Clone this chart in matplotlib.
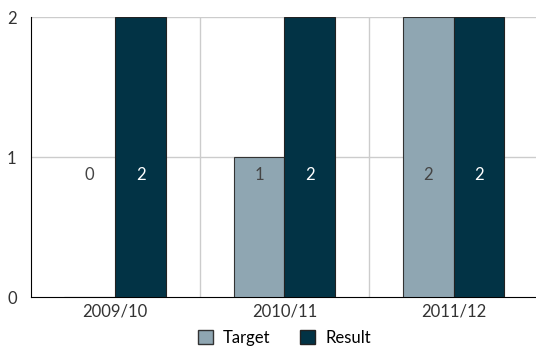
import numpy as np
import matplotlib.pyplot as plt
from matplotlib.patches import Patch

plt.rcParams['font.family'] = ['Lato', 'DejaVu Sans']

categories = ['2009/10', '2010/11', '2011/12']
target = [0, 1, 2]
result = [2, 2, 2]

target_color = '#8fa6b2'
result_color = '#023345'

fig = plt.figure(figsize=(5.36, 3.47), dpi=100)
ax = fig.add_axes([0.057, 0.144, 0.947, 0.807])

x = np.arange(len(categories))
w = 0.3
ax.bar(x - w / 2, target, w, color=target_color, edgecolor='#333333', linewidth=0.8, zorder=3)
ax.bar(x + w / 2, result, w, color=result_color, edgecolor='#222222', linewidth=0.8, zorder=3)

label_y = 0.87
for i in range(len(categories)):
    ax.text(x[i] - w / 2, label_y, str(target[i]), ha='center', va='center',
            fontsize=12, color='#444444', zorder=4)
    ax.text(x[i] + w / 2, label_y, str(result[i]), ha='center', va='center',
            fontsize=12, color='white', zorder=4)

ax.set_xlim(-0.5, 2.5)
ax.set_ylim(0, 2)
ax.set_yticks([0, 1, 2])
ax.set_yticklabels(['0', '1', '2'])
ax.set_xticks(x)
ax.set_xticklabels(categories)
ax.tick_params(axis='both', length=0, labelsize=12, colors='#333333')
ax.tick_params(axis='x', pad=5)
ax.tick_params(axis='y', pad=10)

for yv in [1, 2]:
    ax.axhline(yv, color='#cccccc', linewidth=1, zorder=1)
for xv in [0.5, 1.5]:
    ax.axvline(xv, color='#cccccc', linewidth=1, zorder=1)

ax.spines['top'].set_visible(False)
ax.spines['right'].set_visible(False)
ax.spines['left'].set_color('black')
ax.spines['bottom'].set_color('black')

handles = [Patch(facecolor=target_color, edgecolor='#333333', label='Target'),
           Patch(facecolor=result_color, edgecolor='#222222', label='Result')]
fig.legend(handles=handles, loc='center', bbox_to_anchor=(0.53, 0.026), ncol=2,
           frameon=False, fontsize=12, handlelength=0.9, handleheight=0.9,
           handletextpad=0.6, columnspacing=1.8, borderpad=0)

fig.savefig('out.png', dpi=100)
